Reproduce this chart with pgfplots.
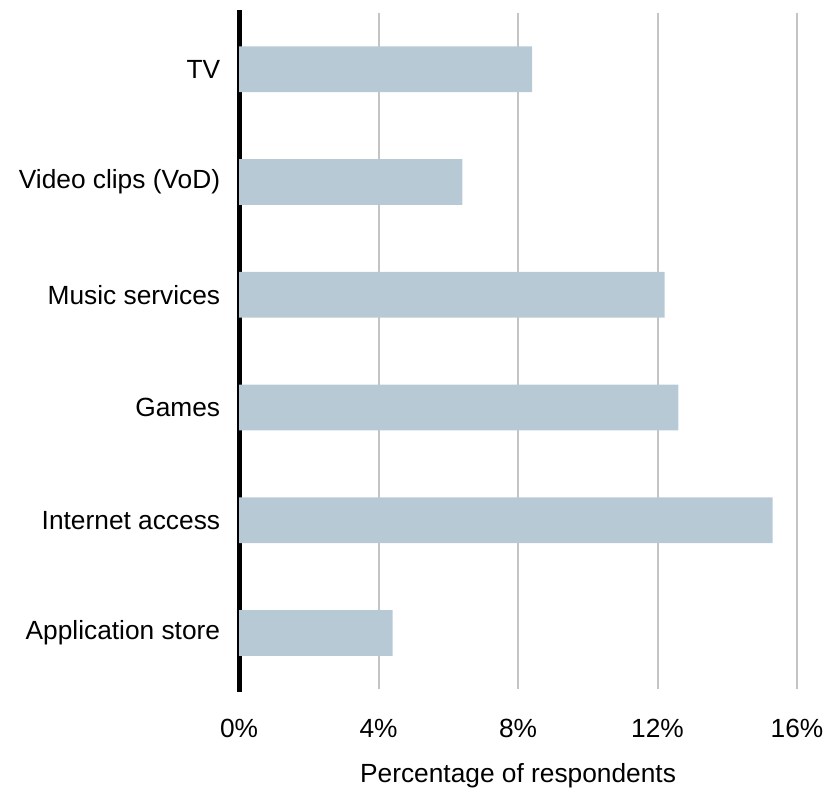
\documentclass[border=0pt]{standalone}
\usepackage{pgfplots}
\pgfplotsset{compat=1.18}
\usepackage{fontspec}
\setmainfont{Liberation Sans}
\definecolor{barblue}{HTML}{B8C9D6}
\definecolor{gridgray}{HTML}{C4C4C4}
\begin{document}
\begin{tikzpicture}
\begin{axis}[
  scale only axis,
  width=280pt, height=339.5pt,
  xbar, bar width=23pt,
  xmin=0, xmax=16,
  ymin=-0.5, ymax=5.5,
  xtick={0,4,8,12,16},
  xticklabels={0\%,4\%,8\%,12\%,16\%},
  ytick={0,1,2,3,4,5},
  yticklabels={Application store,Internet access,Games,Music services,Video clips (VoD),TV},
  major tick length=0pt,
  /pgf/number format/assume math mode=true,
  tick label style={font=\fontsize{13.2pt}{15pt}\selectfont},
  xticklabel style={yshift=-11.5pt},
  yticklabel style={xshift=-6pt},
  xlabel={Percentage of respondents},
  xlabel style={font=\fontsize{13.2pt}{15pt}\selectfont, yshift=-6pt},
  axis x line*=bottom,
  axis y line*=left,
  x axis line style={draw=none},
  y axis line style={line width=2.5pt, black, -, line cap=rect},
  xmajorgrids,
  major grid style={gridgray, line width=1pt},
  grid style={gridgray, line width=1pt},
  clip=false,
]
\addplot[fill=barblue, draw=none] coordinates {
 (4.4,0) (15.3,1) (12.6,2) (12.2,3) (6.4,4) (8.4,5)
};
\path (rel axis cs:0,0) ++(-120pt,-48.5pt) (rel axis cs:1,1) ++(15pt,6.5pt);
\end{axis}
\end{tikzpicture}
\end{document}
